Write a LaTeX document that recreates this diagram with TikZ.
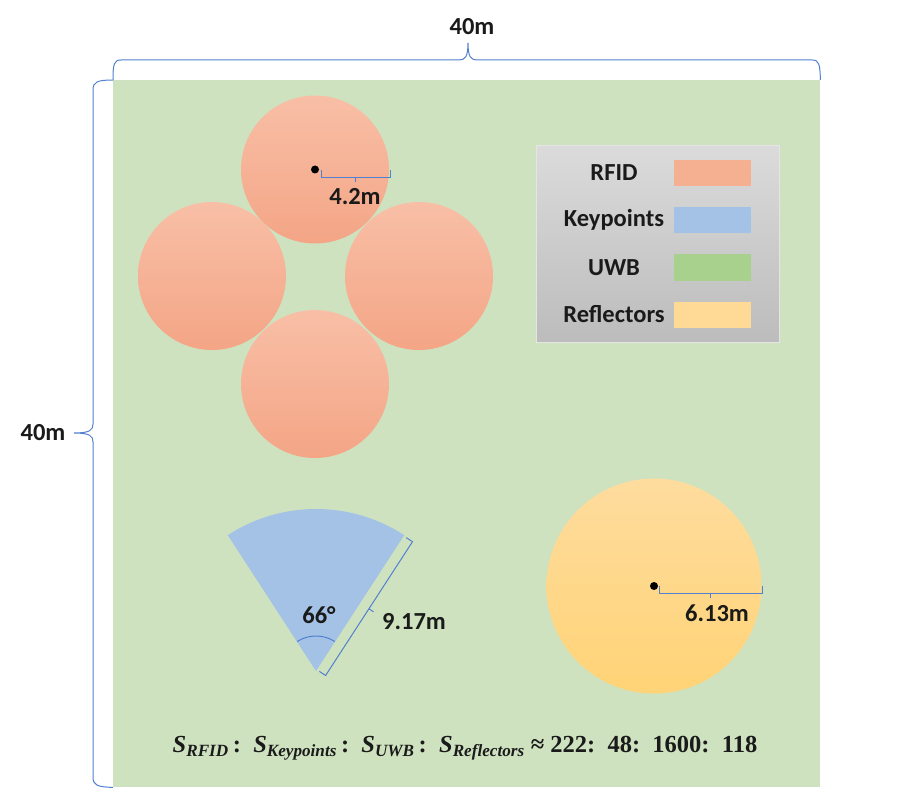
\documentclass[tikz,border=0pt]{standalone}
\usepackage{fontspec}
\setmainfont{Carlito}
\newfontfamily\formfont{Liberation Serif}
\definecolor{uwbbg}{RGB}{206,226,192}
\definecolor{uwbsw}{RGB}{169,209,142}
\definecolor{rfidtop}{RGB}{248,191,166}
\definecolor{rfidbot}{RGB}{244,165,134}
\definecolor{rfidsw}{RGB}{244,176,145}
\definecolor{kpblue}{RGB}{164,194,229}
\definecolor{reftop}{RGB}{254,220,158}
\definecolor{refbot}{RGB}{255,211,118}
\definecolor{refsw}{RGB}{255,217,150}
\definecolor{bracecol}{RGB}{82,128,208}
\definecolor{legtop}{RGB}{219,219,219}
\definecolor{legbot}{RGB}{188,188,188}
\definecolor{txt}{RGB}{26,26,26}
\begin{document}
\begin{tikzpicture}[x=1pt,y=1pt,
  bracecl/.style={draw=bracecol, line width=1pt},
  lbl/.style={font=\fontsize{24.5}{24.5}\selectfont\bfseries, text=txt, inner sep=0},
  rfid/.style={circle, inner sep=0, minimum size=148pt, top color=rfidtop, bottom color=rfidbot},
  swatch/.style={minimum width=77pt, minimum height=26pt, inner sep=0},
  dotc/.style={circle, fill=black, inner sep=0, minimum size=8pt}]
\useasboundingbox (0,0) rectangle (906,-789);
\fill[white] (0,0) rectangle (906,-789);
% UWB area
\node[fill=uwbbg, minimum width=707pt, minimum height=707pt, inner sep=0, anchor=north west] (area) at (113,-80) {};
% top brace
\coordinate (toptip) at (468,-43);
\draw[bracecl] (area.north west) .. controls (113,-64) and (114,-60) .. (121,-60) -- (459,-60)
  .. controls (465,-60) and (468,-57) .. (toptip)
  .. controls (468,-57) and (471,-60) .. (477,-60) -- (812,-60)
  .. controls (819,-60) and (820,-64) .. (area.north east);
\node[lbl] (top40) at (472,-27) {40m};
% left brace
\coordinate (lefttip) at (74,-433);
\draw[bracecl] (area.north west) .. controls (97,-80) and (93,-82) .. (93,-90) -- (93,-424)
  .. controls (93,-430) and (90,-433) .. (lefttip)
  .. controls (90,-433) and (93,-436) .. (93,-442) -- (93,-777)
  .. controls (93,-785) and (97,-787) .. (area.south west);
\node[lbl] (left40) at (43,-433) {40m};
% RFID circles
\node[rfid] (rfid1) at (315,-169.5) {};
\node[rfid] (rfid2) at (212,-276) {};
\node[rfid] (rfid3) at (419,-276) {};
\node[rfid] (rfid4) at (315,-384) {};
\node[dotc] (dot1) at (rfid1.center) {};
\draw[bracecl, line width=0.9pt] (321,-170) -- (321,-177) -- (390,-177) -- (390,-170);
\draw[bracecl, line width=0.9pt] (355.5,-177) -- (355.5,-182);
\node[lbl] (r42) at (355,-197) {4.2m};
% legend
\node[draw=white!80!gray, line width=0.8pt, top color=legtop, bottom color=legbot, minimum width=243pt, minimum height=197pt, inner sep=0, anchor=north west] (legend) at (536,-145) {};
\node[swatch, fill=rfidsw] (sw1) at (712.5,-173) {};
\node[swatch, fill=kpblue] (sw2) at (712.5,-220) {};
\node[swatch, fill=uwbsw] (sw3) at (712.5,-267.5) {};
\node[swatch, fill=refsw] (sw4) at (712.5,-314.5) {};
\node[lbl] (lg1) at (614,-173) {RFID};
\node[lbl] (lg2) at (614,-220) {Keypoints};
\node[lbl] (lg3) at (614,-267.5) {UWB};
\node[lbl] (lg4) at (614,-314.5) {Reflectors};
% keypoints sector
\coordinate (kpapex) at (316,-671);
\fill[kpblue] (kpapex) -- ++(123:162) arc[start angle=123, end angle=57, radius=162] -- cycle;
\draw[bracecol, line width=1pt] ([shift={(122.5:35)}]kpapex) arc[start angle=122.5, end angle=57.5, radius=35];
\node[lbl] (ang) at (319,-615) {66°};
\begin{scope}[shift={(kpapex)}, rotate=57]
  \draw[bracecl] (1.5,-3) -- (1.5,-10.5) -- (161,-10.5) -- (161,-3);
  \draw[bracecl] (81,-10.5) -- (81,-16);
\end{scope}
\node[lbl] (l917) at (414,-622) {9.17m};
% reflectors
\node[circle, inner sep=0, minimum size=215pt, top color=reftop, bottom color=refbot] (refl) at (654,-586) {};
\node[dotc] (dot2) at (refl.center) {};
\draw[bracecl, line width=0.9pt] (659,-586) -- (659,-593) -- (762,-593) -- (762,-586);
\draw[bracecl, line width=0.9pt] (710.5,-593) -- (710.5,-598);
\node[lbl] (r613) at (717,-613) {6.13m};
% formula
\node[inner sep=0, text=txt, font=\formfont\fontsize{24.5}{24.5}\selectfont\bfseries] (formula) at (465,-748)
 {\itshape S\textsubscript{RFID}\upshape\,:\enspace\itshape S\textsubscript{Keypoints}\upshape\,:\enspace\itshape S\textsubscript{UWB}\upshape\,:\enspace\itshape S\textsubscript{Reflectors}\upshape\ ≈ 222:\enspace48:\enspace1600:\enspace118};
\end{tikzpicture}
\end{document}
